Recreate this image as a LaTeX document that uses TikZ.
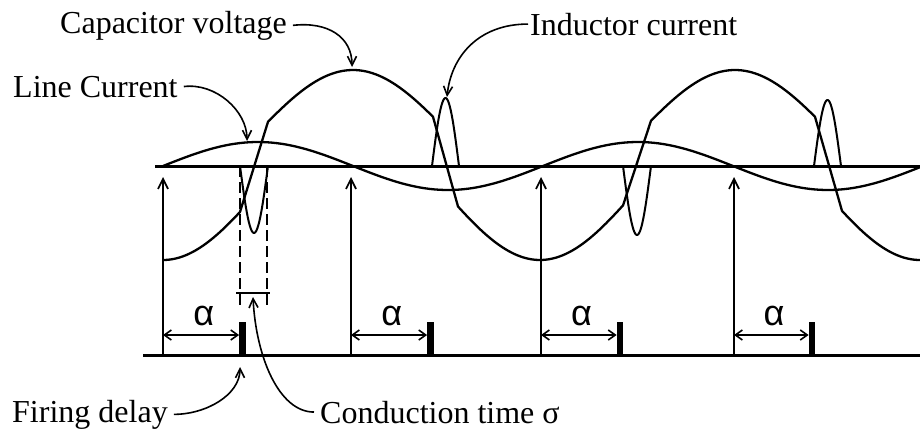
\documentclass[tikz,border=0pt]{standalone}
\usepackage{fontspec}
\setmainfont{Liberation Serif}
\newfontfamily\alfont{Liberation Sans}
\usetikzlibrary{arrows.meta}
\begin{document}
\begin{tikzpicture}[x=1pt,y=-1pt,
  axis/.style={line width=3pt},
  wave/.style={line width=2.3pt, line join=round},
  pulse/.style={line width=2pt, line join=round},
  vline/.style={line width=1.6pt},
  uptip/.style={-{Straight Barb[length=10pt,width=10pt,line width=1.7pt]}},
  leader/.style={line width=1.6pt, -{Straight Barb[length=9pt,width=9pt,line width=1.6pt]}},
  dimarrow/.style={line width=1.6pt, {Straight Barb[length=7pt,width=10pt,line width=1.6pt]}-{Straight Barb[length=7pt,width=10pt,line width=1.6pt]}},
  lbl/.style={font=\fontsize{32}{38}\selectfont, inner sep=0pt, anchor=base west},
  alab/.style={font=\alfont\fontsize{36}{40}\selectfont, inner sep=0pt},
  cdash/.style={line width=1.6pt, dash pattern=on 11pt off 5pt}
]
\useasboundingbox (0,0) rectangle (920,431);

% axes
\coordinate (u0) at (155,166); \coordinate (u1) at (920,166);
\coordinate (l0) at (143,355); \coordinate (l1) at (920,355);
\draw[axis] (u0) -- (u1);
\draw[axis] (l0) -- (l1);

% zero-crossing arrows, firing bars, alpha dimensions
\foreach \v/\b/\n in {163/242.5/a, 351/430.5/b, 541/620/c, 734/812/d}{
  \coordinate (z\n) at (\v,355);
  \coordinate (t\n) at (\v,177);
  \draw[vline,uptip] (z\n) -- (t\n);
  \fill (\b-3.4,322) rectangle (\b+3.4,356);
  \coordinate (da\n) at (\v,335);
  \coordinate (db\n) at (\b-3.4,335);
  \draw[dimarrow] (da\n) -- (db\n);
  \node[alab] (al\n) at ({(\v+\b)/2+1},316) {α};
}

% line current
\draw[wave] plot[domain=163:920, samples=160] (\x,{166-24*sin(0.947368*(\x-163))});

% capacitor voltage
\draw[wave] plot[domain=163:240, samples=30] (\x,{192+68*cos(0.947368*(\x-163))})
  -- plot[domain=268:433, samples=50] (\x,{132-62*cos(0.947368*(\x-353))})
  -- plot[domain=458:623, samples=50] (\x,{192+68*cos(0.947368*(\x-540))})
  -- plot[domain=651:815, samples=50] (\x,{132-62*cos(0.947368*(\x-735))})
  -- plot[domain=842:920, samples=30] (\x,{192+68*cos(0.947368*(\x-920))});

% inductor current pulses
\draw[pulse] plot[domain=240:268, samples=30] (\x,{166+67*sin(6.428571*(\x-240))});
\draw[pulse] plot[domain=432:459, samples=30] (\x,{166-68*sin(6.666667*(\x-432))});
\draw[pulse] plot[domain=623:651, samples=30] (\x,{166+69*sin(6.428571*(\x-623))});
\draw[pulse] plot[domain=814:841, samples=30] (\x,{166-66*sin(6.666667*(\x-814))});

% conduction time marker
\coordinate (c1t) at (240,166); \coordinate (c1b) at (240,307);
\coordinate (c2t) at (267,166); \coordinate (c2b) at (267,307);
\draw[cdash] (c1t) -- (c1b);
\draw[cdash] (c2t) -- (c2b);
\coordinate (m1) at (236,293); \coordinate (m2) at (270,293);
\draw[vline] (m1) -- (m2);

% labels
\node[lbl] (capv) at (60,33) {Capacitor voltage};
\node[lbl] (linec) at (13,97) {Line Current};
\node[lbl] (indc) at (530,35) {Inductor current};
\node[lbl] (fire) at (12,422) {Firing delay};
\node[lbl] (cond) at (320,423) {Conduction time σ};

% leader tips
\coordinate (cvtip) at (352,67);
\coordinate (lctip) at (247,141);
\coordinate (ictip) at (447,97);
\coordinate (fdtip) at (240,367);
\coordinate (cttip) at (253,297);

\draw[leader] ([xshift=6pt]capv.east) .. controls +(35,-4) and +(0,-30) .. (cvtip);
\draw[leader] ([xshift=6pt]linec.east) .. controls +(32,-4) and +(0,-30) .. (lctip);
\draw[leader] ([xshift=-2pt]indc.west) .. controls +(-50,0) and +(4,-40) .. (ictip);
\draw[leader] ([xshift=6pt]fire.east) .. controls +(32,0) and +(0,28) .. (fdtip);
\draw[leader] ([xshift=-6pt]cond.west) .. controls +(-35,0) and +(3,60) .. (cttip);
\end{tikzpicture}
\end{document}
